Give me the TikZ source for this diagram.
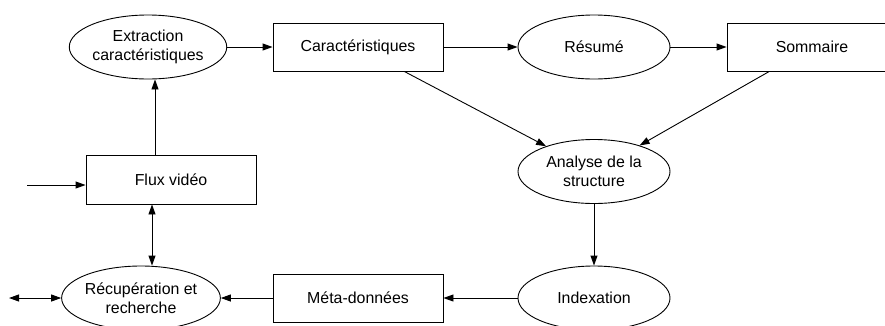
\documentclass[tikz,border=0pt]{standalone}
\usepackage{fontspec}
\setmainfont{Liberation Sans}
\usepackage{tikz}
\usetikzlibrary{shapes.geometric,arrows.meta}
\tikzstyle{box} = [rectangle, draw, fill=white, minimum width=170pt,
                 minimum height=48pt, inner sep=0pt, align=center]
\tikzstyle{proc} = [ellipse, draw, fill=white, minimum width=152pt,
                 minimum height=64pt, inner sep=0pt, align=center]
\tikzstyle{flow} = [draw, line width=0.9pt, -{Triangle[length=10pt,width=7pt]}]
\tikzstyle{both} = [draw, line width=0.9pt,
                 {Triangle[length=10pt,width=7pt]}-{Triangle[length=10pt,width=7pt]}]

\begin{document}
\begin{tikzpicture}[x=1pt, y=-1pt, line width=0.9pt,
    font=\fontsize{15.9}{19.3}\selectfont]

\useasboundingbox (0,0) rectangle (885,325);

    	% top row
\node [proc] at (148,47) (extr) {Extraction\\caractéristiques};
\node [box] at (358,47) (carac) {Caractéristiques};
\node [proc] at (594,47) (resume) {Résumé};
\node [box] at (812,47) (somm) {Sommaire};

\node [proc] at (594,171.5) (analyse) {Analyse de la\\structure};
\node [box, minimum height=49pt] at (171,179.5) (flux) {Flux vidéo};

    	% bottom row
\node [proc] at (141,298) (recup) {Récupération et\\recherche};
\node [box] at (358,298) (meta) {Méta-données};
\node [proc] at (594,298) (index) {Indexation};

\coordinate (inp) at (27,185);
\coordinate (outp) at (9,298);

\path[flow] (extr) -- (carac);
\path[flow] (carac) -- (resume);
\path[flow] (resume) -- (somm);
\path[flow] (carac) -- (analyse);
\path[flow] (somm) -- (analyse);
\path[flow] (analyse) -- (index);
\path[flow] (index) -- (meta);
\path[flow] (meta) -- (recup);
\path[flow] (inp) -- (inp -| flux.west);
\path[flow] ([xshift=-16pt]flux.north) -- ([xshift=-16pt]flux.north |- extr.south);
\path[both] ([xshift=-19pt]flux.south) -- ([xshift=-19pt]flux.south |- recup.north);
\path[both] (outp) -- (recup.west);

\end{tikzpicture}
\end{document}
